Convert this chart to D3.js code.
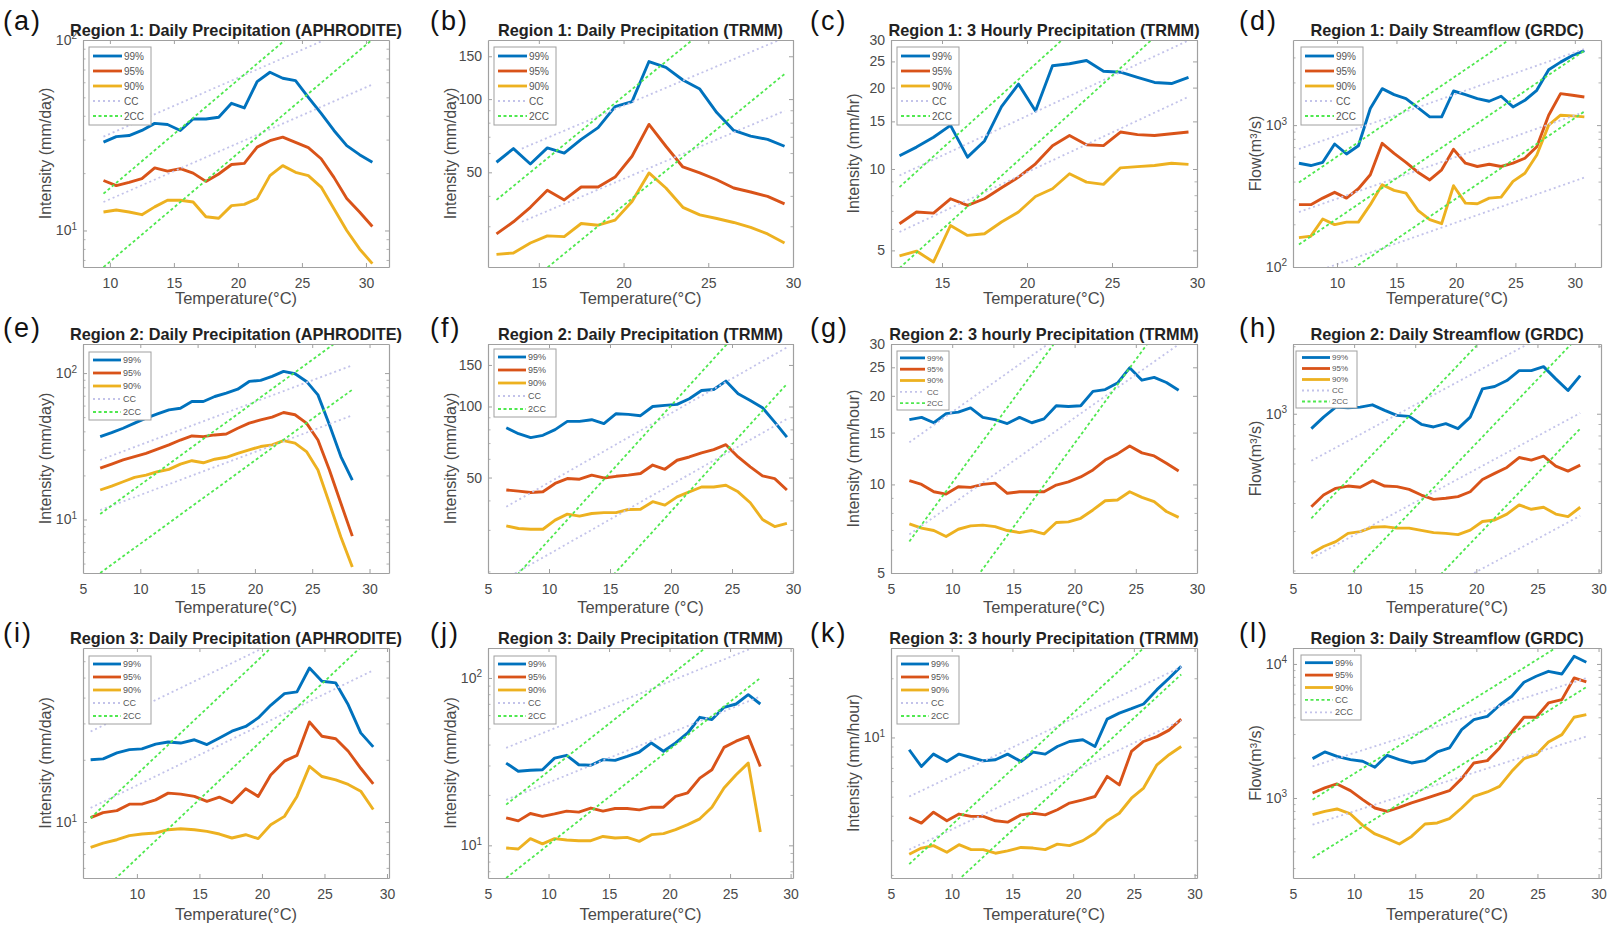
<!DOCTYPE html>
<html>
<head>
<meta charset="utf-8">
<script src="https://cdn.jsdelivr.net/npm/d3@7"></script>
<style>
  body { margin: 0; background: #fff; }
  text { font-family: "Liberation Sans", Arial, sans-serif; }
</style>
</head>
<body>
<svg id="fig" width="1611" height="925"></svg>
<script>
// ---- temperatures (bin centres, degC) ----
const tempsA = [9.5,10.5,11.5,12.5,13.5,14.5,15.5,16.5,17.5,18.5,19.5,20.5,21.5,22.5,23.5,24.5,25.5,26.5,27.5,28.5,29.5,30.5];
const tempsBC = [12.5,13.5,14.5,15.5,16.5,17.5,18.5,19.5,20.5,21.5,22.5,23.5,24.5,25.5,26.5,27.5,28.5,29.5];
const tempsD = [6.8,7.8,8.8,9.8,10.8,11.8,12.8,13.8,14.8,15.8,16.8,17.8,18.8,19.8,20.8,21.8,22.8,23.8,24.8,25.8,26.8,27.8,28.8,29.8,30.8];
const tempsEGH = [6.5,7.5,8.5,9.5,10.5,11.5,12.5,13.5,14.5,15.5,16.5,17.5,18.5,19.5,20.5,21.5,22.5,23.5,24.5,25.5,26.5,27.5,28.5];
const tempsF = [6.5,7.5,8.5,9.5,10.5,11.5,12.5,13.5,14.5,15.5,16.5,17.5,18.5,19.5,20.5,21.5,22.5,23.5,24.5,25.5,26.5,27.5,28.5,29.5];
const tempsI = [6.3,7.3,8.4,9.4,10.4,11.5,12.5,13.5,14.6,15.6,16.6,17.6,18.7,19.7,20.7,21.8,22.8,23.8,24.8,25.9,26.9,27.9,28.9];
const tempsJ = [6.5,7.5,8.5,9.5,10.5,11.5,12.5,13.5,14.5,15.5,16.5,17.5,18.5,19.5,20.5,21.5,22.5,23.5,24.5,25.5,26.5,27.5];
const tempsK = [6.5,7.5,8.5,9.6,10.6,11.6,12.6,13.6,14.6,15.7,16.7,17.7,18.7,19.7,20.8,21.8,22.8,23.8,24.8,25.8,26.9,27.9,28.9];
const tempsL = [6.6,7.6,8.6,9.7,10.7,11.7,12.7,13.7,14.7,15.8,16.8,17.8,18.8,19.8,20.9,21.9,22.9,23.9,24.9,25.9,27.0,28.0,29.0];

// ---- percentile series ----
const a99 = [29.1,31.1,31.5,33.5,36.5,36.0,33.5,38.5,38.5,39.3,46.5,44.0,60.4,67.7,63.0,61.2,50.0,41.2,33.5,27.9,25.0,22.8];
const a95 = [18.3,17.2,17.9,18.7,21.3,20.5,21.1,20.0,18.1,19.8,22.2,22.5,27.4,29.6,30.9,29.0,27.2,23.8,19.0,14.7,12.5,10.5];
const a90 = [12.5,12.8,12.5,12.1,13.3,14.4,14.4,14.1,11.8,11.6,13.5,13.7,14.7,19.4,21.9,20.2,19.4,16.9,13.0,10.0,8.0,6.7];

const b99 = [55.0,62.6,54.1,63.0,60.0,68.3,76.3,93.2,97.7,142.7,135.0,119.8,110.0,88.0,74.3,70.4,68.3,64.0];
const b95 = [27.9,31.3,35.9,42.2,38.5,43.5,43.5,47.8,58.2,78.7,64.0,52.6,49.7,46.6,43.1,41.5,39.8,37.1];
const b90 = [23.0,23.3,25.6,27.4,27.2,30.8,30.3,31.8,37.9,49.7,43.1,35.9,33.4,32.3,31.1,29.7,27.9,25.6];

const c99 = [11.2,12.05,13.1,14.5,11.06,12.7,17.0,20.6,16.4,24.1,24.5,25.2,23.0,22.8,21.8,20.9,20.7,21.8];
const c95 = [6.27,6.93,6.87,7.76,7.33,7.76,8.52,9.33,10.45,12.2,13.3,12.3,12.2,13.7,13.4,13.3,13.5,13.7];
const c90 = [4.77,4.97,4.53,6.18,5.68,5.76,6.37,6.93,7.91,8.45,9.6,8.94,8.77,10.1,10.2,10.3,10.5,10.4];

const d99 = [539,519,547,736,626,716,1309,1807,1641,1538,1330,1144,1144,1740,1641,1538,1473,1597,1344,1497,1759,2455,2780,3096,3355];
const d95 = [275,275,306,336,306,356,447,744,633,547,466,411,484,675,539,511,530,511,539,584,705,1175,1667,1623,1580];
const d90 = [161,165,218,199,207,207,275,380,347,332,251,216,202,374,282,279,306,311,401,458,616,1000,1175,1162,1144];

const e99 = [36.8,39.2,42.0,45.5,49.2,52.6,56.1,57.5,64.0,64.0,69.2,73.0,77.6,87.7,89.1,94.9,102.7,99.0,87.7,71.0,44.3,26.9,18.6];
const e95 = [22.4,23.9,25.5,26.9,28.3,30.2,32.3,34.9,37.2,36.8,37.8,38.4,42.0,45.5,47.9,50.0,53.8,51.9,45.5,34.9,21.8,12.9,7.7];
const e90 = [15.9,16.9,18.1,19.4,20.1,21.2,22.0,23.9,25.2,24.4,25.8,26.6,28.3,29.9,31.5,32.3,34.6,33.2,29.1,21.8,12.9,7.6,4.74];

const f99 = [81.3,76.7,73.8,75.5,79.8,86.5,86.5,87.9,84.6,93.2,92.6,91.4,100,101.1,102.1,107.9,116.9,118.1,128.1,113.2,106.1,98.8,85.9,74.2];
const f95 = [44.3,43.8,43.2,43.5,47.2,49.5,49.2,51.2,49.8,50.6,51.2,52.0,56.5,54.2,59.2,61.1,63.6,65.7,68.9,61.1,55.5,50.8,49.5,44.3];
const f90 = [31.2,30.4,30.2,30.2,33.0,35.0,34.3,35.2,35.5,35.5,36.6,36.7,39.5,38.2,41.4,43.5,45.6,45.6,46.4,43.5,39.1,33.2,31.0,32.0];

const g99 = [16.6,16.9,16.2,17.4,17.6,18.2,16.9,16.6,16.1,16.9,16.2,16.7,18.5,18.4,18.5,20.7,21.0,22.1,24.9,22.6,23.1,22.2,20.9];
const g95 = [10.3,10.0,9.44,9.27,9.82,9.77,10.0,10.1,9.33,9.44,9.44,9.44,9.95,10.2,10.6,11.2,12.1,12.7,13.5,12.8,12.5,11.8,11.1];
const g90 = [7.34,7.1,6.97,6.65,7.04,7.23,7.27,7.19,6.97,6.86,6.97,6.79,7.42,7.46,7.67,8.19,8.8,8.85,9.44,9.04,8.74,8.09,7.73];

const h99 = [858,966,1070,1063,1070,1096,1035,983,973,897,873,903,858,966,1291,1322,1406,1557,1557,1622,1430,1269,1480];
const h95 = [385,434,465,476,470,503,476,473,460,434,415,420,427,449,509,542,576,638,621,647,584,555,590];
const h90 = [238,256,269,293,298,312,314,309,309,302,295,293,289,303,331,336,357,392,375,383,357,348,383];

const i99 = [20.0,20.2,21.6,22.4,22.6,23.8,24.4,24.1,25.0,23.7,25.5,27.5,29.0,31.9,36.7,41.8,42.6,55.6,48.0,47.1,36.9,27.0,23.1];
const i95 = [10.5,11.1,11.35,12.2,12.2,12.8,13.8,13.65,13.3,12.6,13.2,12.4,14.5,13.3,16.9,19.7,21.0,30.5,26.0,25.3,22.0,18.2,15.3];
const i90 = [7.54,7.91,8.21,8.59,8.75,8.85,9.18,9.28,9.18,9.01,8.75,8.37,8.68,8.31,9.71,10.65,13.3,18.6,16.6,16.0,15.2,14.1,11.5];

const j99 = [31.0,27.7,28.1,28.3,33.2,34.5,30.3,30.1,32.5,32.2,34.0,36.1,40.9,36.5,40.9,46.9,58.2,56.4,66.8,69.9,79.5,69.9];
const j95 = [14.6,14.0,15.5,14.9,15.4,16.0,15.8,16.7,16.0,16.6,16.6,16.3,16.9,16.9,19.6,20.6,25.2,28.3,38.5,41.9,44.8,29.6];
const j90 = [9.64,9.51,10.96,10.2,10.96,10.76,10.66,10.66,11.3,11.06,11.16,10.56,11.58,11.74,12.4,13.3,14.4,16.9,22.0,26.4,31.0,12.0];

const k99 = [8.66,7.12,8.23,7.55,8.23,7.91,7.61,7.7,8.23,7.55,8.42,8.23,9.0,9.54,9.73,9.0,12.4,13.3,14.0,14.8,17.5,20.0,23.0];
const k95 = [3.92,3.67,4.17,3.77,4.08,3.97,3.97,3.77,3.71,4.04,4.12,4.04,4.29,4.64,4.82,5.01,6.34,5.74,8.49,9.54,10.1,10.9,12.4];
const k90 = [2.55,2.74,2.82,2.61,2.85,2.69,2.69,2.58,2.65,2.76,2.74,2.69,2.87,2.82,2.99,3.27,3.77,4.12,4.91,5.53,7.26,8.17,9.0];

const l99 = [1966,2204,2046,1932,1878,1694,2081,1932,1825,1900,2204,2362,3234,3843,4065,4916,5741,7300,8090,8810,8420,11400,10290];
const l95 = [1090,1188,1272,1134,972,842,795,852,918,989,1059,1134,1394,1825,1900,2362,3108,4000,4000,5117,5420,7862,7340];
const l90 = [751,795,828,760,625,539,497,454,517,640,651,701,842,1029,1109,1222,1581,1966,2105,2618,2969,4000,4188];

// ---- reference scaling lines: [T start, value start, T end, value end] ----
const ccA = [[9.5,31.1,30.5,128.8],[9.5,14.1,30.5,58.4]];
const cc2A = [[9.5,15.6,30.5,244],[9.5,6.42,30.5,100.6]];
const ccB = [[14,62.6,29.5,178.8],[14,31.3,29.5,89.4]];
const cc2B = [[12.5,38.5,29.5,357],[12.5,13.7,29.5,126.8]];
const ccC = [[12.5,9.46,29.5,29.9],[12.5,5.85,29.5,18.5]];
const cc2C = [[12.5,8.57,29.5,79.5],[12.5,4.3,29.5,39.9]];
const ccD = [[6.8,679,30.8,3443],[6.8,244,30.8,1238],[6.8,84.2,30.8,427]];
const cc2D = [[6.8,394,30.8,9140],[6.8,144,30.8,3345],[6.8,53.7,30.8,1246]];
const ccE = [[6.5,25.5,28.5,113],[6.5,11.6,28.5,51.4]];
const cc2E = [[6.5,10.9,28.5,195],[6.5,4.31,28.5,77]];
const ccF = [[6.5,37.6,29.5,178],[6.5,18.7,29.5,88.5]];
const cc2F = [[6.5,17.2,29.5,350],[6.5,6.12,29.5,124.6]];
const ccG = [[6.5,13.9,28.5,61.8],[6.5,6.76,28.5,29.9]];
const cc2G = [[6.5,6.4,28.5,114],[6.5,2.35,28.5,42]];
const ccH = [[6.5,617,28.5,2733],[6.5,227,28.5,1007],[6.5,79,28.5,351]];
const cc2H = [[6.5,342,28.5,6108],[6.5,126,28.5,2250],[6.5,48,28.5,858]];
const ccI = [[6.3,27.4,28.9,126],[6.3,11.7,28.9,54.2]];
const cc2I = [[6.3,10.45,28.9,204],[6.3,4.1,28.9,80]];
const ccJ = [[6.5,38.2,27.5,158],[6.5,18.7,27.5,77.5]];
const cc2J = [[6.5,17.5,27.5,274],[6.5,6.38,27.5,100]];
const ccK = [[6.5,5.01,28.9,22.8],[6.5,2.69,28.9,12.2]];
const cc2K = [[6.5,2.27,28.9,42.7],[6.5,1.11,28.9,20.9]];
const ccL = [[6.6,1722,29.0,7835],[6.6,632,29.0,2876]];
const cc2L = [[6.6,972,29.0,18270],[6.6,357,29.0,6712]];

// ---- tick labels ----
const xTicks5 = [5,10,15,20,25,30];
const xTicks10 = [10,15,20,25,30];
const xTicks15 = [15,20,25,30];
const yTicksHourly = [5,10,15,20,25,30];
const yTicksTrmm = [50,100,150];

const svg = d3.select('#fig');
const COLORS = {p99: '#0072BD', p95: '#D95319', p90: '#EDB120', cc: '#c3c3ea', cc2: '#4fe84f'};
const AXIS = '#a0a0a0', INK = '#4a4a4a';

const COLS = [[83, 389], [488, 793], [891, 1197], [1293, 1601]];
const ROWS = [[40, 267], [344, 573], [648, 878]];
const XLABEL_GAP = [37, 40, 42];
const LETTER_X = [3, 430, 810, 1239];
const LETTER_Y = [30, 337, 642];

const LG_BIG = {dx: 6, dy: 7, w: 62, h: 78, row: 15, font: 10, l0: 4, l1: 33, tx: 35};
const LG_MID = {dx: 6, dy: 8, w: 62, h: 68, row: 13, font: 9, l0: 4, l1: 32, tx: 34};
const LG_SMALL = {dx: 6, dy: 7, w: 52, h: 59, row: 11.3, font: 8, l0: 3, l1: 28, tx: 30};

const panels = [
  {letter:'a', col:0, row:0, title:'Region 1: Daily Precipitation (APHRODITE)', temps:tempsA, s99:a99, s95:a95, s90:a90, cc:ccA, cc2:cc2A,
   xDomain:[7.9,31.8], yDomain:[6.43,100], xTicks:xTicks10, yTicks:[10,100], sup:true, yLabel:'Intensity (mm/day)', xLabel:'Temperature(°C)', lg:LG_BIG},
  {letter:'b', col:1, row:0, title:'Region 1: Daily Precipitation (TRMM)', temps:tempsBC, s99:b99, s95:b95, s90:b90, cc:ccB, cc2:cc2B,
   xDomain:[12,30], yDomain:[20.4,175], xTicks:xTicks15, yTicks:yTicksTrmm, sup:false, yLabel:'Intensity (mm/day)', xLabel:'Temperature(°C)', lg:LG_BIG},
  {letter:'c', col:2, row:0, title:'Region 1: 3 Hourly Precipitation (TRMM)', temps:tempsBC, s99:c99, s95:c95, s90:c90, cc:ccC, cc2:cc2C,
   xDomain:[12,30], yDomain:[4.34,30], xTicks:xTicks15, yTicks:yTicksHourly, sup:false, yLabel:'Intensity (mm/hr)', xLabel:'Temperature(°C)', lg:LG_BIG},
  {letter:'d', col:3, row:0, title:'Region 1: Daily Streamflow (GRDC)', temps:tempsD, s99:d99, s95:d95, s90:d90, cc:ccD, cc2:cc2D,
   xDomain:[6.3,32.2], yDomain:[100,3981], xTicks:xTicks10, yTicks:[100,1000], sup:true, yLabel:'Flow(m³/s)', xLabel:'Temperature(°C)', lg:Object.assign({}, LG_BIG, {dx: 8})},
  {letter:'e', col:0, row:1, title:'Region 2: Daily Precipitation (APHRODITE)', temps:tempsEGH, s99:e99, s95:e95, s90:e90, cc:ccE, cc2:cc2E,
   xDomain:[5,31.7], yDomain:[4.31,158], xTicks:xTicks5, yTicks:[10,100], sup:true, yLabel:'Intensity (mm/day)', xLabel:'Temperature(°C)', lg:LG_MID},
  {letter:'f', col:1, row:1, title:'Region 2: Daily Precipitation (TRMM)', temps:tempsF, s99:f99, s95:f95, s90:f90, cc:ccF, cc2:cc2F,
   xDomain:[5,30], yDomain:[19.7,184], xTicks:xTicks5, yTicks:yTicksTrmm, sup:false, yLabel:'Intensity (mm/day)', xLabel:'Temperature (°C)', lg:Object.assign({}, LG_MID, {dy: 5})},
  {letter:'g', col:2, row:1, title:'Region 2: 3 hourly Precipitation (TRMM)', temps:tempsEGH, s99:g99, s95:g95, s90:g90, cc:ccG, cc2:cc2G,
   xDomain:[5,30], yDomain:[5,30], xTicks:xTicks5, yTicks:yTicksHourly, sup:false, yLabel:'Intensity (mm/hour)', xLabel:'Temperature(°C)', lg:LG_SMALL},
  {letter:'h', col:3, row:1, title:'Region 2: Daily Streamflow (GRDC)', temps:tempsEGH, s99:h99, s95:h95, s90:h90, cc:ccH, cc2:cc2H,
   xDomain:[5,30.2], yDomain:[195,2046], xTicks:xTicks5, yTicks:[1000], sup:true, yLabel:'Flow(m³/s)', xLabel:'Temperature(°C)', lg:Object.assign({}, LG_SMALL, {dx: 3, w: 61, h: 57, row: 11, l0: 6, l1: 34, tx: 36})},
  {letter:'i', col:0, row:2, title:'Region 3: Daily Precipitation (APHRODITE)', temps:tempsI, s99:i99, s95:i95, s90:i90, cc:ccI, cc2:cc2I,
   xDomain:[5.69,30.16], yDomain:[5.36,69.5], xTicks:xTicks10, yTicks:[10], sup:true, yLabel:'Intensity (mm/day)', xLabel:'Temperature(°C)', lg:LG_MID},
  {letter:'j', col:1, row:2, title:'Region 3: Daily Precipitation (TRMM)', temps:tempsJ, s99:j99, s95:j95, s90:j90, cc:ccJ, cc2:cc2J,
   xDomain:[5,30.2], yDomain:[6.38,151], xTicks:xTicks5, yTicks:[10,100], sup:true, yLabel:'Intensity (mm/day)', xLabel:'Temperature(°C)', lg:LG_MID},
  {letter:'k', col:2, row:2, title:'Region 3: 3 hourly Precipitation (TRMM)', temps:tempsK, s99:k99, s95:k95, s90:k90, cc:ccK, cc2:cc2K,
   xDomain:[5,30.2], yDomain:[1.93,28.5], xTicks:xTicks5, yTicks:[10], sup:true, yLabel:'Intensity (mm/hour)', xLabel:'Temperature(°C)', lg:LG_MID},
  {letter:'l', col:3, row:2, title:'Region 3: Daily Streamflow (GRDC)', temps:tempsL, s99:l99, s95:l95, s90:l90, cc:ccL, cc2:cc2L, swapLegend:true,
   xDomain:[5,30.2], yDomain:[253,13150], xTicks:xTicks5, yTicks:[1000,10000], sup:true, yLabel:'Flow(m³/s)', xLabel:'Temperature(°C)', lg:Object.assign({}, LG_MID, {dx: 8, dy: 7, w: 60, h: 65, row: 12.4})}
];

function minorTicks(domain) {
  const out = [];
  for (let k = Math.floor(Math.log10(domain[0])); k <= Math.ceil(Math.log10(domain[1])); k++) {
    for (let m = 1; m <= 9; m++) {
      const v = m * Math.pow(10, k);
      if (v >= domain[0] && v <= domain[1]) out.push(v);
    }
  }
  return out;
}

function styleAxis(sel) {
  sel.attr('font-family', null).attr('font-size', null);
  sel.select('.domain').attr('stroke', AXIS).attr('stroke-width', 1.2);
  sel.selectAll('.tick line').attr('stroke', AXIS).attr('stroke-width', 1);
  sel.selectAll('.tick text').attr('fill', INK).style('font-size', '14px');
}

function drawPanel(p) {
  const [x0, x1] = COLS[p.col], [y0, y1] = ROWS[p.row];
  const x = d3.scaleLinear().domain(p.xDomain).range([x0, x1]);
  const y = d3.scaleLog().domain(p.yDomain).range([y1, y0]);
  const g = svg.append('g');

  g.append('clipPath').attr('id', 'clip-' + p.letter)
    .append('rect').attr('x', x0).attr('y', y0).attr('width', x1 - x0).attr('height', y1 - y0);
  const plot = g.append('g').attr('clip-path', `url(#clip-${p.letter})`);
  const line = d3.line().x(d => x(d[0])).y(d => y(d[1]));

  [['p99', p.s99], ['p95', p.s95], ['p90', p.s90]].forEach(([key, vals]) => {
    plot.append('path').datum(d3.zip(p.temps, vals)).attr('d', line)
      .attr('fill', 'none').attr('stroke', COLORS[key]).attr('stroke-width', 2.9)
      .attr('stroke-linejoin', 'round');
  });
  p.cc.forEach(s => plot.append('path').datum([[s[0], s[1]], [s[2], s[3]]]).attr('d', line)
    .attr('fill', 'none').attr('stroke', COLORS.cc).attr('stroke-width', 1.8).attr('stroke-dasharray', '2,3'));
  p.cc2.forEach(s => plot.append('path').datum([[s[0], s[1]], [s[2], s[3]]]).attr('d', line)
    .attr('fill', 'none').attr('stroke', COLORS.cc2).attr('stroke-width', 1.8).attr('stroke-dasharray', '3,2.5'));

  // box + ticks (inward, on all four sides like MATLAB "box on")
  const minor = minorTicks(p.yDomain).filter(v => !p.yTicks.includes(v));
  const bottom = g.append('g').attr('transform', `translate(0,${y1})`)
    .call(d3.axisBottom(x).tickValues(p.xTicks).tickFormat(d3.format('d')).tickSizeInner(-4).tickSizeOuter(0).tickPadding(11));
  const top = g.append('g').attr('transform', `translate(0,${y0})`)
    .call(d3.axisTop(x).tickValues(p.xTicks).tickFormat('').tickSizeInner(-4).tickSizeOuter(0));
  const left = g.append('g').attr('transform', `translate(${x0},0)`)
    .call(d3.axisLeft(y).tickValues(p.yTicks).tickFormat(d3.format('d')).tickSizeInner(-4).tickSizeOuter(0).tickPadding(6));
  const right = g.append('g').attr('transform', `translate(${x1},0)`)
    .call(d3.axisRight(y).tickValues(p.yTicks).tickFormat('').tickSizeInner(-4).tickSizeOuter(0));
  [bottom, top, left, right].forEach(styleAxis);

  [[d3.axisLeft, x0], [d3.axisRight, x1]].forEach(([ax, pos]) => {
    const m = g.append('g').attr('transform', `translate(${pos},0)`)
      .call(ax(y).tickValues(minor).tickFormat('').tickSizeInner(-2.5).tickSizeOuter(0));
    m.select('.domain').remove();
    m.selectAll('.tick line').attr('stroke', AXIS).attr('stroke-width', 0.8);
  });

  if (p.sup) {
    left.selectAll('.tick text').each(function(d) {
      const t = d3.select(this);
      t.text('10');
      t.append('tspan').attr('dy', '-0.55em').style('font-size', '10px').text(Math.round(Math.log10(d)));
    });
  }

  // labels
  g.append('text').attr('x', (x0 + x1) / 2).attr('y', y0 - 4).attr('text-anchor', 'middle')
    .attr('font-weight', 'bold').style('font-size', '16.3px').attr('fill', '#222').text(p.title);
  g.append('text').attr('x', (x0 + x1) / 2).attr('y', y1 + XLABEL_GAP[p.row]).attr('text-anchor', 'middle')
    .style('font-size', '16.5px').attr('fill', INK).text(p.xLabel);
  g.append('text').attr('transform', `translate(${x0 - 38},${(y0 + y1) / 2}) rotate(-90)`)
    .attr('text-anchor', 'middle').attr('dy', '0.35em')
    .style('font-size', '16px').attr('fill', INK).text(p.yLabel);
  g.append('text').attr('x', LETTER_X[p.col]).attr('y', LETTER_Y[p.row])
    .style('font-size', '27px').attr('letter-spacing', '2px').attr('fill', '#111').text(`(${p.letter})`);

  // legend
  const lg = p.lg;
  const lx = x0 + lg.dx, ly = y0 + lg.dy;
  const leg = g.append('g');
  leg.append('rect').attr('x', lx).attr('y', ly).attr('width', lg.w).attr('height', lg.h)
    .attr('fill', '#fff').attr('stroke', AXIS).attr('stroke-width', 1);
  const ccStyle = {stroke: COLORS.cc, w: 1.8, dash: '2,3'};
  const cc2Style = {stroke: COLORS.cc2, w: 1.8, dash: '3,2.5'};
  const entries = [
    {label: '99%', stroke: COLORS.p99, w: 2.8, dash: null},
    {label: '95%', stroke: COLORS.p95, w: 2.8, dash: null},
    {label: '90%', stroke: COLORS.p90, w: 2.8, dash: null},
    Object.assign({label: 'CC'}, p.swapLegend ? cc2Style : ccStyle),
    Object.assign({label: '2CC'}, p.swapLegend ? ccStyle : cc2Style)
  ];
  const pad = (lg.h - 5 * lg.row) / 2;
  entries.forEach((e, i) => {
    const cy = ly + pad + lg.row * (i + 0.5);
    leg.append('line').attr('x1', lx + lg.l0).attr('x2', lx + lg.l1).attr('y1', cy).attr('y2', cy)
      .attr('stroke', e.stroke).attr('stroke-width', e.w).attr('stroke-dasharray', e.dash);
    leg.append('text').attr('x', lx + lg.tx).attr('y', cy).attr('dy', '0.35em')
      .style('font-size', lg.font + 'px').attr('fill', '#555').text(e.label);
  });
}

panels.forEach(drawPanel);
</script>
</body>
</html>
